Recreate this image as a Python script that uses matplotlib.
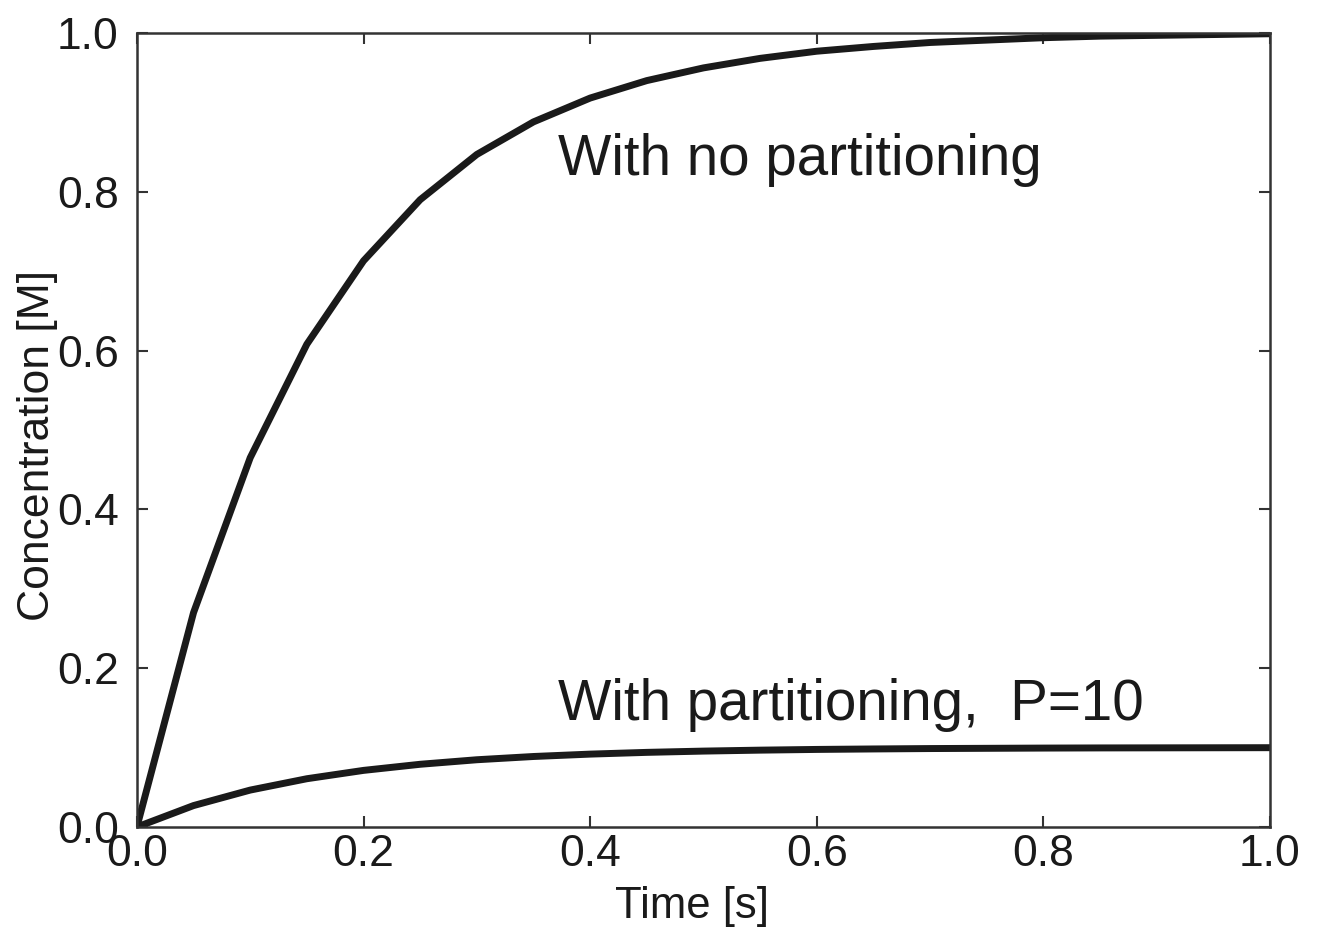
import matplotlib
matplotlib.use("Agg")
import matplotlib.pyplot as plt

# time samples and concentrations
time_s = [0.0, 0.05, 0.10, 0.15, 0.20, 0.25, 0.30, 0.35, 0.40, 0.45, 0.50,
          0.55, 0.60, 0.65, 0.70, 0.75, 0.80, 0.85, 0.90, 0.95, 1.00]
no_partition = [0.0, 0.27, 0.465, 0.608, 0.713, 0.79, 0.847, 0.888, 0.918, 0.94, 0.956,
                0.968, 0.977, 0.983, 0.988, 0.991, 0.994, 0.996, 0.997, 0.998, 0.999]
with_partition = [0.0, 0.027, 0.0465, 0.0608, 0.0713, 0.079, 0.0847, 0.0888, 0.0918, 0.094, 0.0956,
                  0.0968, 0.0977, 0.0983, 0.0988, 0.0991, 0.0994, 0.0996, 0.0997, 0.0998, 0.0999]

x_ticks = [0.0, 0.2, 0.4, 0.6, 0.8, 1.0]
y_ticks = [0.0, 0.2, 0.4, 0.6, 0.8, 1.0]

plt.rcParams["font.family"] = ["Liberation Sans", "DejaVu Sans"]

fig = plt.figure(figsize=(13.29, 9.31), dpi=100)
ax = fig.add_axes([0.103, 0.1117, 0.8526, 0.8529])

ax.plot(time_s, no_partition, color="#1a1a1a", linewidth=5)
ax.plot(time_s, with_partition, color="#1a1a1a", linewidth=5)

ax.text(0.372, 0.821, "With no partitioning", fontsize=40.7, color="#1a1a1a")
ax.text(0.372, 0.135, "With partitioning,  P=10", fontsize=40.7, color="#1a1a1a")

ax.set_xlim(0, 1)
ax.set_ylim(0, 1)
ax.set_xticks(x_ticks)
ax.set_yticks(y_ticks)
ax.set_xticklabels([f"{v:.1f}" for v in x_ticks])
ax.set_yticklabels([f"{v:.1f}" for v in y_ticks])

for spine in ax.spines.values():
    spine.set_color("#333333")
    spine.set_linewidth(1.8)

ax.tick_params(axis="both", direction="in", top=True, right=True,
               length=8, width=1.5, color="#333333", labelsize=32, labelcolor="#1a1a1a")
ax.tick_params(axis="x", pad=5)
ax.tick_params(axis="y", pad=13)

ax.set_xlabel("Time [s]", fontsize=31.5, color="#1a1a1a")
ax.set_ylabel("Concentration [M]", fontsize=32, color="#1a1a1a")
ax.xaxis.set_label_coords(0.49, -0.074)
ax.yaxis.set_label_coords(-0.07, 0.48)

fig.savefig("out.png", dpi=100, facecolor="white")
